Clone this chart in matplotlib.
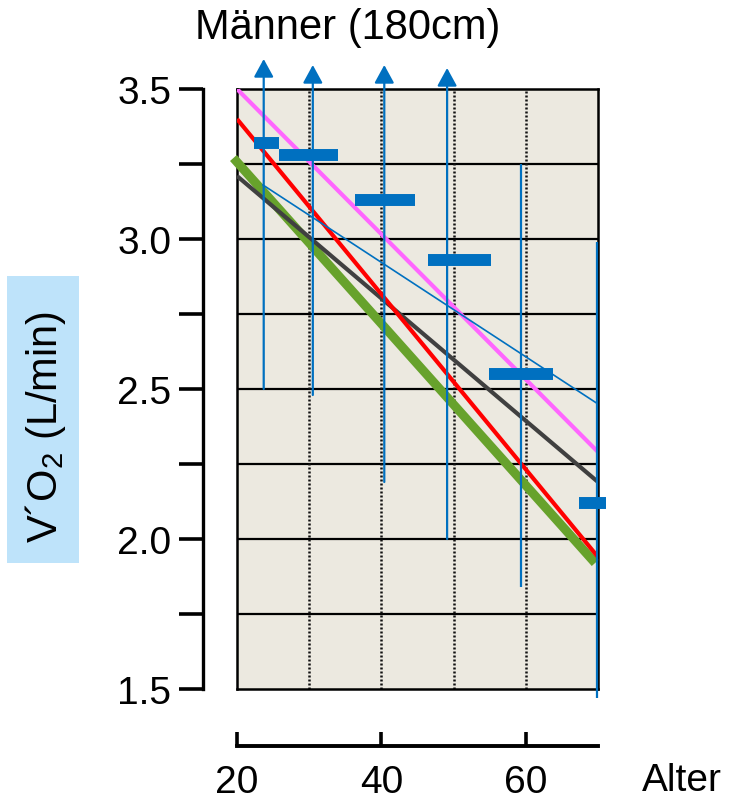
import matplotlib
matplotlib.use("Agg")
import matplotlib.pyplot as plt
from matplotlib.patches import Rectangle

plt.rcParams['font.family'] = ['Liberation Sans', 'DejaVu Sans']
plt.rcParams['mathtext.default'] = 'regular'

# ---- data -------------------------------------------------------------
# prediction lines: (age, VO2 in L/min) at both ends
line_magenta_age = [20, 70]
line_magenta_vo2 = [3.50, 2.29]
line_red_age = [20, 70]
line_red_vo2 = [3.40, 1.94]
line_green_age = [19.5, 69.6]
line_green_vo2 = [3.27, 1.92]
line_gray_age = [20, 70]
line_gray_vo2 = [3.21, 2.19]
line_blue_age = [23.6, 70]
line_blue_vo2 = [3.18, 2.45]

# group means with ranges
group_age = [23.7, 30.5, 40.4, 49.1, 59.3, 69.9]
group_left = [22.4, 25.8, 36.3, 46.5, 54.9, 67.4]
group_right = [25.8, 34.0, 44.7, 55.2, 63.7, 71.1]
group_mean = [3.32, 3.28, 3.13, 2.93, 2.55, 2.12]
group_low = [2.50, 2.48, 2.19, 2.00, 1.84, 1.47]
group_high = [3.60, 3.58, 3.58, 3.57, 3.25, 2.99]
group_open_top = [True, True, True, True, False, False]

y_ticks = [1.5, 2.0, 2.5, 3.0, 3.5]
y_minor = [1.75, 2.25, 2.75, 3.25]
x_ticks = [20, 40, 60]
x_grid = [30, 40, 50, 60]
y_grid = [1.75, 2.0, 2.25, 2.5, 2.75, 3.0, 3.25]

W, H = 733, 803
fig = plt.figure(figsize=(W / 100, H / 100), dpi=100)

def fx(px):
    return px / W

def fy(py):
    return 1 - py / H

BLUE = '#0070C0'

# ---- main panel -------------------------------------------------------
ax = fig.add_axes([fx(237), fy(690), fx(598) - fx(237), fy(90) - fy(690)])
ax.set_xlim(20, 70)
ax.set_ylim(1.5, 3.5)
ax.set_facecolor('#ECE9E0')
for s in ax.spines.values():
    s.set_linewidth(1.8)
    s.set_color('black')
ax.set_xticks([])
ax.set_yticks([])

for g in y_grid:
    ax.axhline(g, color='black', lw=1.6, zorder=1)
for g in x_grid:
    ax.axvline(g, color='#111111', lw=1.8, ls=(0, (0.8, 0.8)), zorder=1)

ax.plot(line_green_age, line_green_vo2, color='#67A22C', lw=6.5,
        solid_capstyle='butt', zorder=3, clip_on=False)
ax.plot(line_gray_age, line_gray_vo2, color='#404040', lw=3,
        solid_capstyle='butt', zorder=3)
ax.plot(line_red_age, line_red_vo2, color='#FF0000', lw=3,
        solid_capstyle='butt', zorder=3)
ax.plot(line_magenta_age, line_magenta_vo2, color='#FF66FF', lw=3,
        solid_capstyle='butt', zorder=3)
ax.plot(line_blue_age, line_blue_vo2, color=BLUE, lw=1.2, zorder=4)

for a, l, r, m, lo, hi, op in zip(group_age, group_left, group_right,
                                   group_mean, group_low, group_high,
                                   group_open_top):
    if op:
        ax.annotate('', xy=(a, hi), xytext=(a, lo),
                    arrowprops=dict(arrowstyle='-|>,head_length=0.55,head_width=0.3',
                                    mutation_scale=20, color=BLUE, lw=1.6,
                                    shrinkA=0, shrinkB=0),
                    annotation_clip=False, zorder=5)
    else:
        ax.plot([a, a], [lo, hi], color=BLUE, lw=1.6, zorder=5,
                clip_on=False, solid_capstyle='butt')
    ax.plot([l, r], [m, m], color=BLUE, lw=8.6, solid_capstyle='butt',
            zorder=6, clip_on=False)

# ---- left value axis --------------------------------------------------
axl = fig.add_axes([fx(203), fy(690), 0.001, fy(90) - fy(690)])
axl.set_ylim(1.5, 3.5)
axl.patch.set_visible(False)
for k in ['top', 'right', 'bottom']:
    axl.spines[k].set_visible(False)
axl.spines['left'].set_linewidth(2.4)
axl.set_xticks([])
axl.set_yticks(y_ticks)
axl.set_yticklabels([f'{v:.1f}' for v in y_ticks])
axl.set_yticks(y_minor, minor=True)
axl.tick_params(axis='y', which='major', direction='out', length=17,
                width=2.6, labelsize=28, pad=6)
axl.tick_params(axis='y', which='minor', direction='out', length=17,
                width=2.6)

# ---- bottom age axis --------------------------------------------------
axb = fig.add_axes([fx(237), fy(747), fx(598) - fx(237), 0.001])
axb.set_xlim(20, 70)
axb.patch.set_visible(False)
for k in ['top', 'right', 'left']:
    axb.spines[k].set_visible(False)
axb.spines['bottom'].set_linewidth(2.8)
axb.set_yticks([])
axb.set_xticks(x_ticks)
axb.set_xticklabels([str(v) for v in x_ticks])
axb.tick_params(axis='x', direction='in', length=10, width=2.6,
                labelsize=28, pad=13)

fig.text(fx(642), fy(781), 'Alter', fontsize=28, ha='left', va='center')

# ---- title and y label ------------------------------------------------
fig.text(fx(348), fy(28), 'Männer (180cm)', fontsize=30, ha='center',
         va='center')

fig.patches.append(Rectangle((fx(7), fy(564)), fx(79) - fx(7),
                             fy(277) - fy(564), transform=fig.transFigure,
                             facecolor='#BEE3FA', edgecolor='none'))
fig.text(fx(45), fy(427), 'V´O$_2$ (L/min)', fontsize=30, rotation=90,
         ha='center', va='center')

fig.savefig('out.png', dpi=100, facecolor='white')
